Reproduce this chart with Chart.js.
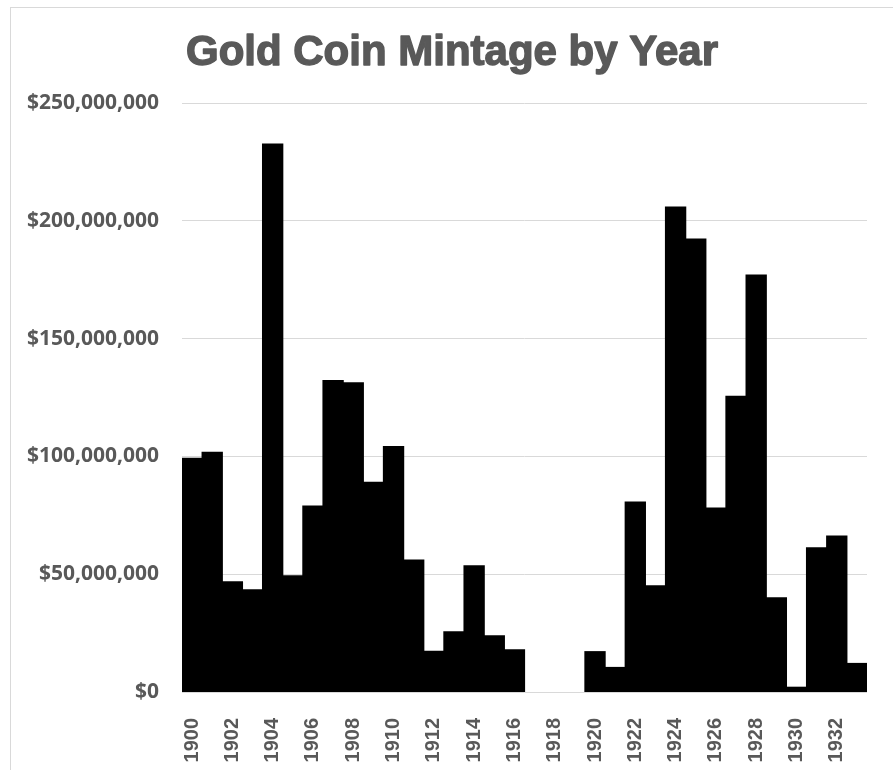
<script src="https://cdn.jsdelivr.net/npm/chart.js@4.4.7/dist/chart.umd.min.js"></script>

<style>
  body {
    margin: 0;
    background: #fff;
  }
  .chart-container {
    position: relative;
    width: 893px;
    height: 770px;
  }
  .frame {
    position: absolute;
    left: 10px;
    top: 7px;
    width: 900px;
    height: 800px;
    border-left: 1px solid #d9d9d9;
    border-top: 1px solid #d9d9d9;
  }
</style>

<div class="chart-container">
  <div class="frame"></div>
  <canvas id="chart"></canvas>
</div>

<script>
  // years 1900 - 1933
  const years = [
    '1900', '1901', '1902', '1903', '1904', '1905', '1906', '1907', '1908', '1909',
    '1910', '1911', '1912', '1913', '1914', '1915', '1916', '1917', '1918', '1919',
    '1920', '1921', '1922', '1923', '1924', '1925', '1926', '1927', '1928', '1929',
    '1930', '1931', '1932', '1933'
  ]

  // mintage value in dollars (no gold minted 1917-1919)
  const mintage = [
    99200000, 101700000, 46700000, 43400000, 232600000, 49300000, 78900000, 132200000, 131200000, 89000000,
    104200000, 56000000, 17300000, 25500000, 53500000, 23800000, 17900000, null, null, null,
    17100000, 10400000, 80600000, 45100000, 205800000, 192200000, 78100000, 125500000, 176900000, 40000000,
    2000000, 61200000, 66200000, 12100000
  ]

  const yTicks = [0, 50000000, 100000000, 150000000, 200000000, 250000000]

  const titleText = 'Gold Coin Mintage by Year'
  const textColor = '#595959'
  const gridColor = '#d9d9d9'

  const canvas = document.getElementById('chart')

  /*
   * Draw the heavy title a bit right of centre, like the original
   */
  const heavyTitle = {
    id: 'heavyTitle',
    afterDraw(chart) {
      const ctx = chart.ctx
      ctx.save()
      ctx.font = 'bold 42px "Liberation Sans"'
      ctx.fillStyle = textColor
      ctx.strokeStyle = textColor
      ctx.lineWidth = 1.4
      ctx.lineJoin = 'round'
      ctx.textAlign = 'center'
      ctx.textBaseline = 'alphabetic'
      ctx.fillText(titleText, 452, 65)
      ctx.strokeText(titleText, 452, 65)
      ctx.restore()
    }
  }

  const data = {
    labels: years,
    datasets: [{
      label: 'Gold coin mintage',
      data: mintage,
      backgroundColor: '#000000',
      borderWidth: 0,
      inflateAmount: 0.6, // hide hairline seams between adjacent bars
      barPercentage: 1,
      categoryPercentage: 1
    }]
  }

  const config = {
    type: 'bar',
    data: data,
    plugins: [heavyTitle],
    options: {
      responsive: true,
      maintainAspectRatio: false,
      animation: false,
      layout: {
        padding: { left: 0, right: 26, top: 103, bottom: 0 }
      },
      plugins: {
        legend: { display: false },
        tooltip: { enabled: false },
        title: { display: false }
      },
      scales: {
        x: {
          grid: { display: false },
          border: { display: false },
          ticks: {
            autoSkip: false,
            maxRotation: 90,
            minRotation: 90,
            padding: 18,
            color: textColor,
            font: { family: 'Liberation Sans', size: 20, weight: 'bold' },
            callback: function (val, i) {
              return i % 2 === 0 ? years[i] : ''
            }
          },
          afterFit: function (scale) {
            scale.height = 78
            // no extra room for label overhang at the ends
            scale.paddingLeft = 0
            scale.paddingRight = 0
          }
        },
        y: {
          min: 0,
          max: 250000000,
          afterBuildTicks: function (scale) {
            scale.ticks = yTicks.map((v) => ({ value: v }))
          },
          grid: {
            color: gridColor,
            lineWidth: 1,
            drawTicks: false
          },
          border: { display: false },
          ticks: {
            padding: 23,
            color: textColor,
            font: { family: 'Open Sans', size: 21, weight: 'bold' },
            callback: function (val) {
              return '$' + Number(val).toLocaleString('en-US')
            }
          },
          afterFit: function (scale) {
            scale.width = 182
          }
        }
      }
    }
  }

  const myChart = new Chart(canvas, config)
</script>
